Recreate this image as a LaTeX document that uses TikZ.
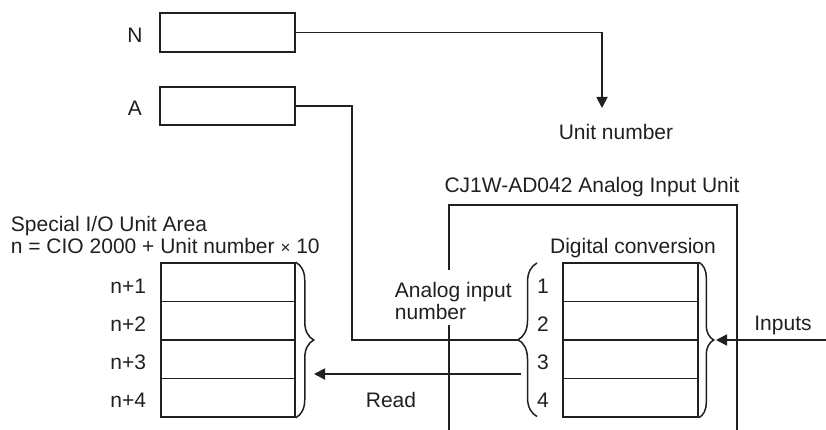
\documentclass[tikz,border=0pt]{standalone}
\usepackage{fontspec}
\setmainfont{Liberation Sans}
\usetikzlibrary{arrows.meta,decorations.pathreplacing}
\definecolor{ink}{RGB}{35,31,32}
\begin{document}
\begin{tikzpicture}[x=1pt,y=-1pt,
  line width=1.8pt, color=ink,
  lbl/.style={inner sep=0pt,text=ink,font=\fontsize{21}{25}\selectfont},
  regbox/.style={draw,line width=1.5pt,minimum width=135pt,minimum height=#1,inner sep=0pt},
  cell/.style={draw,line width=1.5pt,minimum width=#1,minimum height=38.5pt,inner sep=0pt},
  arr/.style={-{Triangle[length=11pt,width=11pt]}},
  brc/.style={decorate,decoration={brace,amplitude=#1},line width=1.5pt}
]
\useasboundingbox (0,0) rectangle (826,430);

% registers N and A
\node[regbox=39pt] (N) at (227.5,32.5) {};
\node[regbox=38pt] (A) at (227.5,106) {};
\node[lbl,anchor=base] (tN) at (135,43) {N};
\node[lbl,anchor=base] (tA) at (135,116) {A};

% unit number arrow
\coordinate (ntip) at (602,108);
\draw[arr] (N.east) -| (ntip);
\node[lbl,anchor=base] (tUnit) at (616,140) {Unit number};

% Analog input unit frame
\node[lbl,anchor=base] (tTitle) at (592,193) {CJ1W-AD042 Analog Input Unit};
\draw (449,270) -- (449,205) -- (737,205) -- (737,432);
\draw (449,325) -- (449,432);

% Special I/O Unit Area table
\node[lbl,anchor=base west] (tSp1) at (10,231) {Special I/O Unit Area};
\node[lbl,anchor=base west] (tSp2) at (10,253) {n = CIO 2000 + Unit number {\fontsize{17}{20}\selectfont ×} 10};
\node[cell=134pt] (L1) at (228,282.25) {};
\node[cell=134pt] (L2) at (228,320.75) {};
\node[cell=134pt] (L3) at (228,359.25) {};
\node[cell=134pt] (L4) at (228,397.75) {};
\node[lbl,anchor=base east] (tn1) at (147,293) {n+1};
\node[lbl,anchor=base east] (tn2) at (147,331) {n+2};
\node[lbl,anchor=base east] (tn3) at (147,369) {n+3};
\node[lbl,anchor=base east] (tn4) at (147,407) {n+4};
\draw[brc=18pt] (L1.north east) -- (L4.south east);

% Digital conversion table
\node[lbl,anchor=base] (tDig) at (633,253) {Digital conversion};
\node[cell=135pt] (D1) at (630.5,282.25) {};
\node[cell=135pt] (D2) at (630.5,320.75) {};
\node[cell=135pt] (D3) at (630.5,359.25) {};
\node[cell=135pt] (D4) at (630.5,397.75) {};
\node[lbl,anchor=base] (t1) at (543,293) {1};
\node[lbl,anchor=base] (t2) at (543,331) {2};
\node[lbl,anchor=base] (t3) at (543,369) {3};
\node[lbl,anchor=base] (t4) at (543,407) {4};
\draw[brc=19pt] (537,416.5) -- (537,263);
\draw[brc=15pt] (D1.north east) -- (D4.south east);

% analog input number label
\node[lbl,anchor=base west] (tAn1) at (394,297) {Analog input};
\node[lbl,anchor=base west] (tAn2) at (394,319) {number};

% A line to the number brace
\coordinate (abend) at (352,340);
\coordinate (numtip) at (519,340);
\draw (A.east) -| (abend) -- (numtip);

% Read arrow
\coordinate (rs) at (521,374);
\coordinate (re) at (314,374);
\draw[arr] (rs) -- (re);
\node[lbl,anchor=base] (tRead) at (391,407) {Read};

% Inputs arrow
\coordinate (inp) at (828,340);
\coordinate (dtip) at (716,340);
\draw[arr] (inp) -- (dtip);
\node[lbl,anchor=base] (tIn) at (783,330) {Inputs};
\end{tikzpicture}
\end{document}
